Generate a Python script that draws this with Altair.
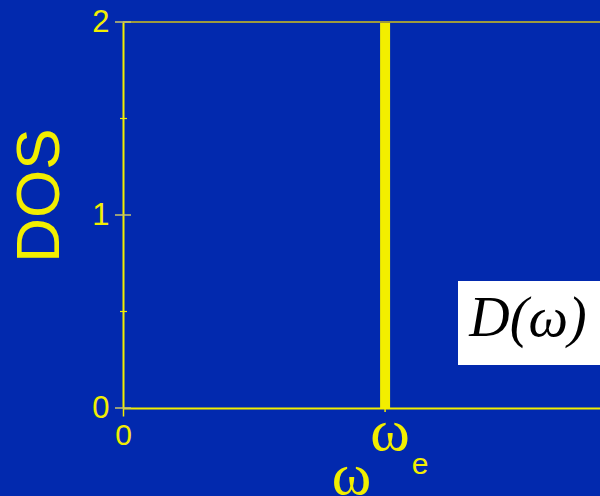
import altair as alt
import pandas as pd

# Density of states of a single Einstein mode: a delta spike at omega_e
omega_e = [1.0]
dos_top = [2.0]
x_max = 1.82
y_major = [0, 1, 2]
y_minor = [0.5, 1.5]

BG = "#0229AE"
YEL = "#F2EE00"
TICK = "#C8C46A"

W, H = 477, 386

spike = pd.DataFrame({"w": omega_e, "d0": [0.0], "d1": dos_top})
major = pd.DataFrame({"y": y_major})
minor = pd.DataFrame({"y": y_minor})

xs = alt.Scale(domain=[0, x_max], nice=False, zero=False)
ys = alt.Scale(domain=[0, 2], nice=False)

x_axis = alt.Axis(values=[0], labelExpr="'0'", title="ω",
                  titleFont="Liberation Serif", titleFontSize=60,
                  titleFontWeight="normal", titleColor=YEL,
                  titleX=228, titleY=85, titleBaseline="alphabetic",
                  labelFont="Liberation Sans", labelFontSize=30,
                  labelColor=YEL, labelPadding=4, labelFlush=False,
                  tickSize=8, tickColor=YEL, tickWidth=1.5,
                  domainColor=YEL, domainWidth=2, grid=False)

y_axis = alt.Axis(values=y_major, labelExpr="format(datum.value, 'd')",
                  title="DOS", labelOverlap=False, labelFlush=False,
                  titleFont="Liberation Sans", titleFontSize=62,
                  titleFontWeight="normal", titleColor=YEL,
                  titleAngle=-90, titleX=-84, titleY=173,
                  titleAlign="center", titleBaseline="middle",
                  labelFont="Liberation Sans", labelFontSize=31,
                  labelColor=YEL, labelPadding=14, ticks=False,
                  domainColor=YEL, domainWidth=2, grid=False)


def X(field):
    return alt.X(field, type="quantitative", scale=xs, axis=x_axis)


def Y(field):
    return alt.Y(field, type="quantitative", scale=ys, axis=y_axis)


bar = alt.Chart(spike).mark_rule(color=YEL, strokeWidth=10).encode(
    x=X("w"), y=Y("d0"), y2="d1"
)

# frame line along the top of the plot
top_line = alt.Chart(pd.DataFrame({"y": dos_top})).mark_rule(
    color="#9C9A3E", strokeWidth=2
).encode(y=Y("y"), x=alt.value(0), x2=alt.value(W))

major_ticks = alt.Chart(major).mark_rule(color=TICK, strokeWidth=1.5).encode(
    y=Y("y"), x=alt.value(-8), x2=alt.value(8)
)
minor_ticks = alt.Chart(minor).mark_rule(color=YEL, strokeWidth=1.2).encode(
    y=Y("y"), x=alt.value(-3), x2=alt.value(4)
)

we_tick = alt.Chart(spike).mark_rule(color=YEL, strokeWidth=1.5).encode(
    x=X("w"), y=alt.value(H), y2=alt.value(H + 4)
)

we_label = alt.Chart(spike).mark_text(
    text="ω", font="Liberation Serif", fontSize=60, color=YEL,
    align="center", baseline="alphabetic", dx=5
).encode(x=X("w"), y=alt.value(428))

we_sub = alt.Chart(spike).mark_text(
    text="e", font="Liberation Sans", fontSize=30, color=YEL,
    align="center", baseline="alphabetic", dx=35
).encode(x=X("w"), y=alt.value(452))

# label box for D(omega)
box = alt.Chart(spike).mark_rect(color="white").encode(
    x=alt.value(335), x2=alt.value(W), y=alt.value(259), y2=alt.value(343)
)
box_text = alt.Chart(spike).mark_text(
    text="D(ω)", font="Liberation Serif", fontStyle="italic", fontSize=56,
    color="black", align="center", baseline="alphabetic"
).encode(x=alt.value(405), y=alt.value(314))

chart = alt.layer(
    bar, top_line, minor_ticks, major_ticks, we_tick, we_label, we_sub,
    box, box_text
).properties(
    width=W, height=H, background=BG,
    autosize=alt.AutoSizeParams(type="none"),
    padding={"left": 123, "top": 22, "right": 0, "bottom": 88},
).configure_view(stroke=None, fill=BG)

chart.save("out.html", embed_options={"renderer": "svg", "actions": False})
